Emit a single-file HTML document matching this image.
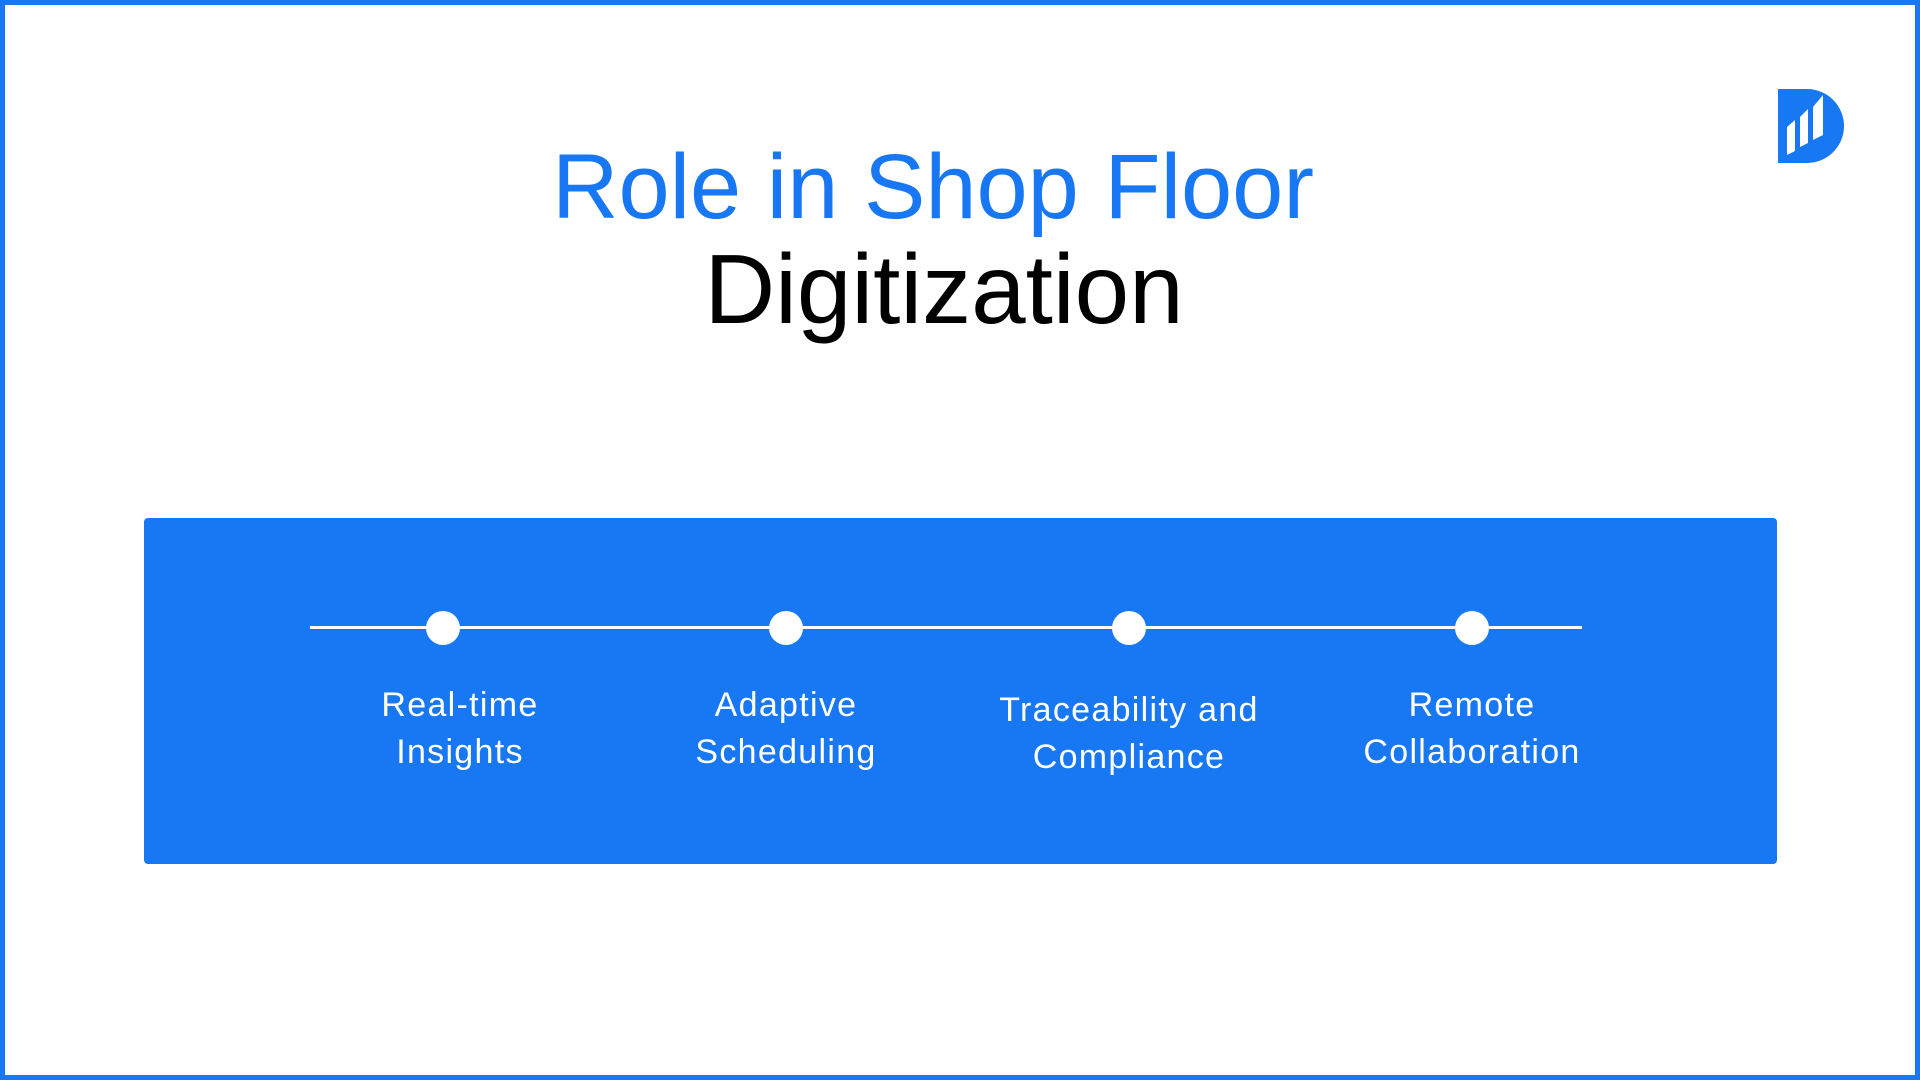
<!DOCTYPE html>
<html><head><meta charset="utf-8"><style>
body{margin:0;width:1920px;height:1080px;position:relative;background:#fff;font-family:"Liberation Sans",sans-serif;overflow:hidden}
.frame{position:absolute;left:0;top:0;width:1920px;height:1080px;box-sizing:border-box;border:5px solid #1877f2}
.t{position:absolute;width:1920px;text-align:center;line-height:110px}
.box{position:absolute;left:144px;top:518px;width:1633px;height:346px;background:#1877f2;border-radius:4px}
.line{position:absolute;left:310px;top:626px;width:1272px;height:3px;background:#fff}
.dot{position:absolute;top:611px;width:34px;height:34px;border-radius:50%;background:#fff}
.lb{position:absolute;width:340px;text-align:center;color:#fff;font-size:34px;letter-spacing:1.3px;line-height:47px}
</style></head><body>
<div class="frame"></div>
<div class="t" style="left:-27px;top:132px;color:#1877f2;font-size:92px">Role in Shop Floor</div>
<div class="t" style="left:-16px;top:234px;color:#000;font-size:98px">Digitization</div>
<svg style="position:absolute;left:1778px;top:89px" width="66" height="74" viewBox="0 0 66 74">
<path d="M0 0H29A37 37 0 0 1 29 74H0Z" fill="#1877f2"/>
<polygon points="9,38 17,31 17,62 9,66" fill="#fff"/>
<polygon points="22,28 30,20 30,54 22,58" fill="#fff"/>
<polygon points="35,18 45,6 45,46 35,51" fill="#fff"/>
</svg>
<div class="box"></div>
<div class="line"></div>
<div class="dot" style="left:426px"></div>
<div class="dot" style="left:769px"></div>
<div class="dot" style="left:1112px"></div>
<div class="dot" style="left:1455px"></div>
<div class="lb" style="left:290px;top:682px">Real-time<br>Insights</div>
<div class="lb" style="left:616px;top:682px">Adaptive<br>Scheduling</div>
<div class="lb" style="left:959px;top:687px">Traceability and<br>Compliance</div>
<div class="lb" style="left:1302px;top:682px">Remote<br>Collaboration</div>
</body></html>
